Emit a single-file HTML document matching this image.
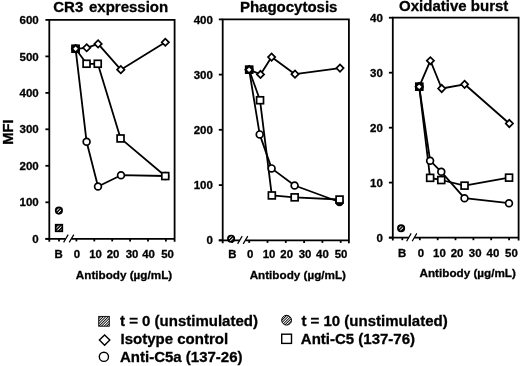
<!DOCTYPE html>
<html lang="en"><head><meta charset="utf-8"><title>Figure</title>
<style>html,body{margin:0;padding:0;background:#fff;}body{width:520px;height:366px;overflow:hidden;}svg{display:block;filter:grayscale(1) blur(0.3px);}text{font-family:"Liberation Sans", Arial, Helvetica, sans-serif;font-weight:bold;fill:#000;stroke:#000;stroke-width:0.3px;}.ax{stroke:#000;stroke-width:1.8;fill:none;stroke-linecap:butt;}.ln{stroke:#000;stroke-width:1.8;fill:none;stroke-linejoin:round;}.mk{stroke:#000;stroke-width:1.7;fill:#fff;}</style></head><body>
<svg width="520" height="366" viewBox="0 0 520 366">
<defs><pattern id="h" width="2.4" height="2.4" patternUnits="userSpaceOnUse" patternTransform="rotate(-45)"><rect width="2.4" height="2.4" fill="#fff"/><rect width="2.4" height="1.45" fill="#000"/></pattern><pattern id="h2" width="1.84" height="1.84" patternUnits="userSpaceOnUse" patternTransform="translate(0.3,0) rotate(-45)"><rect width="1.84" height="1.84" fill="#fff"/><rect width="1.84" height="0.88" fill="#000"/></pattern></defs>
<rect width="520" height="366" fill="#fff"/>
<text transform="translate(110.7,11.9)" style="font-size:15.0px;text-anchor:middle;word-spacing:1.6px">CR3 expression</text>
<path class="ax" d="M49.3 241.8V19.9H174.6V241.8"/>
<path class="ax" d="M45.4 238.8H65.8M71.4 238.8H174.6"/>
<path class="ax" style="stroke-width:1.2" d="M63.6 242.4L68.2 234.6M69.2 242.4L73.8 234.6"/>
<path class="ax" d="M45.4 19.9H49.3"/>
<text transform="translate(38.7,24.0)" style="font-size:11.5px;text-anchor:end">600</text>
<path class="ax" d="M45.4 56.4H49.3"/>
<text transform="translate(38.7,60.5)" style="font-size:11.5px;text-anchor:end">500</text>
<path class="ax" d="M45.4 92.9H49.3"/>
<text transform="translate(38.7,97.0)" style="font-size:11.5px;text-anchor:end">400</text>
<path class="ax" d="M45.4 129.3H49.3"/>
<text transform="translate(38.7,133.4)" style="font-size:11.5px;text-anchor:end">300</text>
<path class="ax" d="M45.4 165.8H49.3"/>
<text transform="translate(38.7,169.9)" style="font-size:11.5px;text-anchor:end">200</text>
<path class="ax" d="M45.4 202.3H49.3"/>
<text transform="translate(38.7,206.4)" style="font-size:11.5px;text-anchor:end">100</text>
<path class="ax" d="M45.4 238.8H49.3"/>
<text transform="translate(38.7,242.9)" style="font-size:11.5px;text-anchor:end">0</text>
<path class="ax" d="M59.0 238.8V241.4"/>
<text transform="translate(58.6,257.9)" style="font-size:11.4px;text-anchor:middle">B</text>
<path class="ax" d="M76.4 238.8V241.4"/>
<text transform="translate(76.9,257.9)" style="font-size:11.4px;text-anchor:middle">0</text>
<path class="ax" d="M94.3 238.8V241.4"/>
<text transform="translate(95.6,257.9)" style="font-size:11.4px;text-anchor:middle">10</text>
<path class="ax" d="M112.2 238.8V241.4"/>
<text transform="translate(113.1,257.9)" style="font-size:11.4px;text-anchor:middle">20</text>
<path class="ax" d="M130.1 238.8V241.4"/>
<text transform="translate(132.0,257.9)" style="font-size:11.4px;text-anchor:middle">30</text>
<path class="ax" d="M148.0 238.8V241.4"/>
<text transform="translate(148.5,257.9)" style="font-size:11.4px;text-anchor:middle">40</text>
<path class="ax" d="M165.9 238.8V241.4"/>
<text transform="translate(167.6,257.9)" style="font-size:11.4px;text-anchor:middle">50</text>
<text transform="translate(124.0,278.8)" style="font-size:11.7px;text-anchor:middle">Antibody (µg/mL)</text>
<polyline class="ln" points="75.6,48.8 86.7,47.8 98.1,43.9 120.8,69.7 165.3,42.3"/>
<polyline class="ln" points="75.6,48.8 86.6,63.8 97.8,63.8 120.6,138.4 165.2,176.0"/>
<polyline class="ln" points="75.6,48.8 86.6,141.8 98.0,186.5 121.0,175.2 165.2,176.0"/>
<circle class="mk" cx="75.6" cy="48.8" r="3.4"/>
<circle class="mk" cx="86.6" cy="141.8" r="3.4"/>
<circle class="mk" cx="98.0" cy="186.5" r="3.4"/>
<circle class="mk" cx="121.0" cy="175.2" r="3.4"/>
<circle class="mk" cx="165.2" cy="176.0" r="3.4"/>
<rect class="mk" x="72.1" y="45.3" width="6.9" height="6.9"/>
<rect class="mk" x="83.1" y="60.3" width="6.9" height="6.9"/>
<rect class="mk" x="94.3" y="60.3" width="6.9" height="6.9"/>
<rect class="mk" x="117.1" y="135.0" width="6.9" height="6.9"/>
<rect class="mk" x="161.8" y="172.6" width="6.9" height="6.9"/>
<path class="mk" d="M71.9 48.8L75.6 45.1L79.2 48.8L75.6 52.4Z"/>
<path class="mk" d="M83.0 47.8L86.7 44.1L90.4 47.8L86.7 51.4Z"/>
<path class="mk" d="M94.4 43.9L98.1 40.2L101.8 43.9L98.1 47.5Z"/>
<path class="mk" d="M117.1 69.7L120.8 66.0L124.5 69.7L120.8 73.4Z"/>
<path class="mk" d="M161.7 42.3L165.3 38.6L169.0 42.3L165.3 45.9Z"/>
<rect x="71.5" y="44.9" width="8.2" height="7.7" fill="#000"/>
<path d="M73.3 48.8l2.3 -2.3l2.3 2.3l-2.3 2.3z" fill="#fff"/>
<rect class="mk" x="55.7" y="224.7" width="6.6" height="6.6" style="fill:url(#h)"/>
<circle class="mk" cx="58.9" cy="210.6" r="3.2" style="fill:url(#h)"/>
<text transform="translate(288.7,12.1)" style="font-size:15.0px;text-anchor:middle">Phagocytosis</text>
<path class="ax" d="M222.7 243.3V19.4H348.9V243.3"/>
<path class="ax" d="M218.8 240.3H239.8M245.4 240.3H348.9"/>
<path class="ax" style="stroke-width:1.2" d="M237.6 243.9L242.2 236.1M243.2 243.9L247.8 236.1"/>
<path class="ax" d="M218.8 19.4H222.7"/>
<text transform="translate(212.9,23.5)" style="font-size:11.5px;text-anchor:end">400</text>
<path class="ax" d="M218.8 74.6H222.7"/>
<text transform="translate(212.9,78.7)" style="font-size:11.5px;text-anchor:end">300</text>
<path class="ax" d="M218.8 129.8H222.7"/>
<text transform="translate(212.9,133.9)" style="font-size:11.5px;text-anchor:end">200</text>
<path class="ax" d="M218.8 185.1H222.7"/>
<text transform="translate(212.9,189.2)" style="font-size:11.5px;text-anchor:end">100</text>
<path class="ax" d="M218.8 240.3H222.7"/>
<text transform="translate(212.9,244.4)" style="font-size:11.5px;text-anchor:end">0</text>
<path class="ax" d="M232.2 240.3V242.9"/>
<text transform="translate(232.4,258.0)" style="font-size:11.4px;text-anchor:middle">B</text>
<path class="ax" d="M249.2 240.3V242.9"/>
<text transform="translate(250.1,258.0)" style="font-size:11.4px;text-anchor:middle">0</text>
<path class="ax" d="M267.5 240.3V242.9"/>
<text transform="translate(269.0,258.0)" style="font-size:11.4px;text-anchor:middle">10</text>
<path class="ax" d="M285.8 240.3V242.9"/>
<text transform="translate(286.7,258.0)" style="font-size:11.4px;text-anchor:middle">20</text>
<path class="ax" d="M304.1 240.3V242.9"/>
<text transform="translate(305.0,258.0)" style="font-size:11.4px;text-anchor:middle">30</text>
<path class="ax" d="M322.4 240.3V242.9"/>
<text transform="translate(322.4,258.0)" style="font-size:11.4px;text-anchor:middle">40</text>
<path class="ax" d="M340.7 240.3V242.9"/>
<text transform="translate(341.0,258.0)" style="font-size:11.4px;text-anchor:middle">50</text>
<text transform="translate(297.8,278.6)" style="font-size:11.7px;text-anchor:middle">Antibody (µg/mL)</text>
<polyline class="ln" points="249.1,69.7 260.5,74.4 271.6,57.1 295.0,74.2 340.0,68.1"/>
<polyline class="ln" points="249.1,69.7 260.0,100.2 271.8,195.4 294.6,197.3 339.5,199.5"/>
<polyline class="ln" points="249.1,69.7 259.7,134.4 271.6,168.4 294.6,185.5 339.5,202.0"/>
<circle class="mk" cx="249.1" cy="69.7" r="3.4"/>
<circle class="mk" cx="259.7" cy="134.4" r="3.4"/>
<circle class="mk" cx="271.6" cy="168.4" r="3.4"/>
<circle class="mk" cx="294.6" cy="185.5" r="3.4"/>
<circle class="mk" cx="339.5" cy="202.0" r="3.4" style="fill:#000"/>
<rect class="mk" x="245.7" y="66.2" width="6.9" height="6.9"/>
<rect class="mk" x="256.6" y="96.8" width="6.9" height="6.9"/>
<rect class="mk" x="268.4" y="192.0" width="6.9" height="6.9"/>
<rect class="mk" x="291.2" y="193.9" width="6.9" height="6.9"/>
<rect class="mk" x="336.1" y="196.1" width="6.9" height="6.9"/>
<path class="mk" d="M245.4 69.7L249.1 66.0L252.8 69.7L249.1 73.4Z"/>
<path class="mk" d="M256.9 74.4L260.5 70.8L264.1 74.4L260.5 78.1Z"/>
<path class="mk" d="M268.0 57.1L271.6 53.5L275.2 57.1L271.6 60.8Z"/>
<path class="mk" d="M291.4 74.2L295.0 70.5L298.6 74.2L295.0 77.9Z"/>
<path class="mk" d="M336.4 68.1L340.0 64.4L343.6 68.1L340.0 71.8Z"/>
<rect x="245.0" y="65.9" width="8.2" height="7.7" fill="#000"/>
<path d="M246.8 69.7l2.3 -2.3l2.3 2.3l-2.3 2.3z" fill="#fff"/>
<circle class="mk" cx="231.1" cy="238.7" r="3.2" style="fill:url(#h)"/>
<text transform="translate(453.7,11.2)" style="font-size:15.0px;text-anchor:middle">Oxidative burst</text>
<path class="ax" d="M392.8 240.6V17.7H518.6V240.6"/>
<path class="ax" d="M388.9 237.6H408.8M414.4 237.6H518.6"/>
<path class="ax" style="stroke-width:1.2" d="M406.6 241.2L411.2 233.4M412.2 241.2L416.8 233.4"/>
<path class="ax" d="M388.9 17.7H392.8"/>
<text transform="translate(382.9,21.8)" style="font-size:11.5px;text-anchor:end">40</text>
<path class="ax" d="M388.9 72.7H392.8"/>
<text transform="translate(382.9,76.8)" style="font-size:11.5px;text-anchor:end">30</text>
<path class="ax" d="M388.9 127.7H392.8"/>
<text transform="translate(382.9,131.8)" style="font-size:11.5px;text-anchor:end">20</text>
<path class="ax" d="M388.9 182.6H392.8"/>
<text transform="translate(382.9,186.7)" style="font-size:11.5px;text-anchor:end">10</text>
<path class="ax" d="M388.9 237.6H392.8"/>
<text transform="translate(382.9,241.7)" style="font-size:11.5px;text-anchor:end">0</text>
<path class="ax" d="M402.3 237.6V240.2"/>
<text transform="translate(402.1,256.8)" style="font-size:11.4px;text-anchor:middle">B</text>
<path class="ax" d="M419.8 237.6V240.2"/>
<text transform="translate(420.9,256.8)" style="font-size:11.4px;text-anchor:middle">0</text>
<path class="ax" d="M437.7 237.6V240.2"/>
<text transform="translate(439.4,256.8)" style="font-size:11.4px;text-anchor:middle">10</text>
<path class="ax" d="M455.5 237.6V240.2"/>
<text transform="translate(457.0,256.8)" style="font-size:11.4px;text-anchor:middle">20</text>
<path class="ax" d="M473.4 237.6V240.2"/>
<text transform="translate(475.2,256.8)" style="font-size:11.4px;text-anchor:middle">30</text>
<path class="ax" d="M491.2 237.6V240.2"/>
<text transform="translate(492.9,256.8)" style="font-size:11.4px;text-anchor:middle">40</text>
<path class="ax" d="M509.1 237.6V240.2"/>
<text transform="translate(511.4,256.8)" style="font-size:11.4px;text-anchor:middle">50</text>
<text transform="translate(467.7,276.6)" style="font-size:11.7px;text-anchor:middle">Antibody (µg/mL)</text>
<polyline class="ln" points="419.2,86.7 430.4,60.7 441.7,88.5 464.6,84.3 509.3,123.5"/>
<polyline class="ln" points="419.2,86.7 430.1,177.8 441.2,180.0 464.5,185.7 509.0,177.6"/>
<polyline class="ln" points="419.2,86.7 430.1,160.7 441.3,171.8 464.5,198.2 509.0,203.2"/>
<circle class="mk" cx="419.2" cy="86.7" r="3.4"/>
<circle class="mk" cx="430.1" cy="160.7" r="3.4"/>
<circle class="mk" cx="441.3" cy="171.8" r="3.4"/>
<circle class="mk" cx="464.5" cy="198.2" r="3.4"/>
<circle class="mk" cx="509.0" cy="203.2" r="3.4"/>
<rect class="mk" x="415.8" y="83.2" width="6.9" height="6.9"/>
<rect class="mk" x="426.7" y="174.4" width="6.9" height="6.9"/>
<rect class="mk" x="437.8" y="176.6" width="6.9" height="6.9"/>
<rect class="mk" x="461.1" y="182.2" width="6.9" height="6.9"/>
<rect class="mk" x="505.6" y="174.2" width="6.9" height="6.9"/>
<path class="mk" d="M415.6 86.7L419.2 83.0L422.8 86.7L419.2 90.4Z"/>
<path class="mk" d="M426.8 60.7L430.4 57.1L434.0 60.7L430.4 64.4Z"/>
<path class="mk" d="M438.1 88.5L441.7 84.8L445.3 88.5L441.7 92.2Z"/>
<path class="mk" d="M461.0 84.3L464.6 80.6L468.2 84.3L464.6 88.0Z"/>
<path class="mk" d="M505.7 123.5L509.3 119.8L513.0 123.5L509.3 127.2Z"/>
<rect x="415.1" y="82.9" width="8.2" height="7.7" fill="#000"/>
<path d="M416.9 86.7l2.3 -2.3l2.3 2.3l-2.3 2.3z" fill="#fff"/>
<circle class="mk" cx="401.1" cy="228.3" r="3.2" style="fill:url(#h)"/>
<text transform="translate(12.6,132.0) rotate(-90) scale(1.020,1)" style="font-size:14.5px;text-anchor:middle">MFI</text>
<g style="stroke-width:1.2">
<rect class="mk" x="98.7" y="316.4" width="10.6" height="9.8" style="stroke-width:0.9;fill:url(#h2)"/>
<text transform="translate(120.0,325.7)" style="font-size:15.0px;text-anchor:start">t = 0 (unstimulated)</text>
<path class="mk" style="stroke-width:1.4" d="M99.4 340.1L104.6 334.9L109.8 340.1L104.6 345.3Z"/>
<text transform="translate(120.6,344.2)" style="font-size:15.0px;text-anchor:start">Isotype control</text>
<circle class="mk" style="stroke-width:1.4" cx="103.9" cy="356.8" r="4.6"/>
<text transform="translate(120.0,362.0)" style="font-size:15.0px;text-anchor:start">Anti-C5a (137-26)</text>
<circle class="mk" style="stroke-width:1.0;fill:url(#h2)" cx="286.6" cy="320.2" r="4.9"/>
<text transform="translate(301.4,325.7)" style="font-size:15.0px;text-anchor:start">t = 10 (unstimulated)</text>
<rect class="mk" style="stroke-width:1.4" x="281.7" y="334.2" width="9.8" height="9.2"/>
<text transform="translate(300.8,344.0)" style="font-size:15.0px;text-anchor:start">Anti-C5 (137-76)</text>
</g>
</svg></body></html>
